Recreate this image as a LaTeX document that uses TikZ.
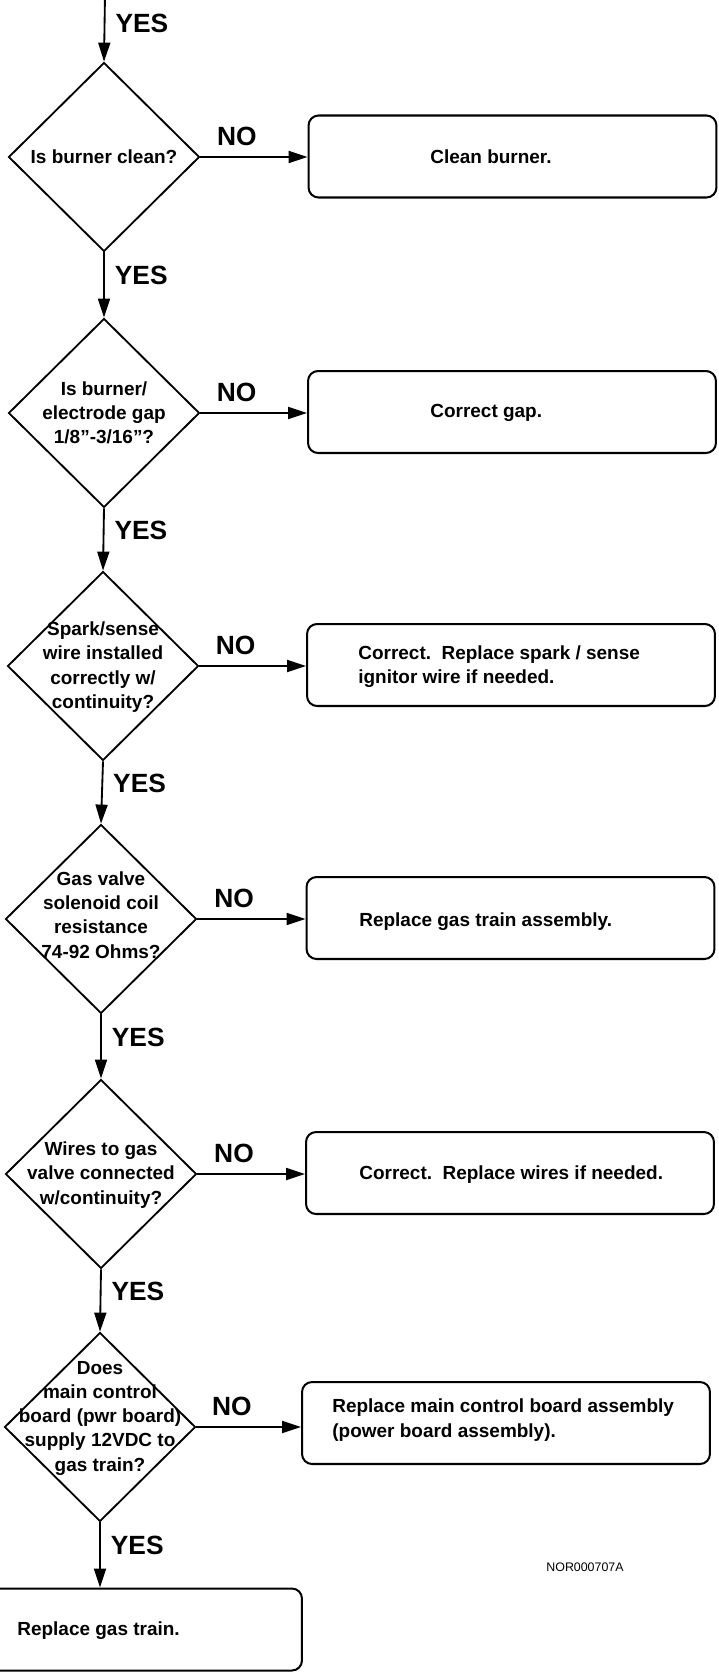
\documentclass[tikz,border=0pt]{standalone}
\usepackage{fontspec}
\setmainfont{Liberation Sans}
\usepackage{tikz}
\usetikzlibrary{arrows.meta}
\usetikzlibrary{shapes.geometric}
\usetikzlibrary{positioning}

\tikzset{
  decision/.style={diamond, draw, line width=1.05pt, minimum width=3.82cm, minimum height=3.78cm, inner sep=0pt},
  fixbox/.style={draw, line width=1.15pt, rounded corners=0.2cm, minimum width=8.16cm, minimum height=1.64cm, inner sep=0pt},
  qtext/.style={font=\fontsize{10.8}{13.8}\selectfont\bfseries, align=center, inner sep=0pt},
  atext/.style={font=\fontsize{10.8}{13.8}\selectfont\bfseries, align=left, anchor=west, inner sep=0pt},
  answer/.style={font=\fontsize{15}{18}\selectfont\bfseries, inner sep=0pt},
  flow/.style={line width=1.05pt, -{Triangle[length=0.38cm, width=0.24cm]}}
}

\begin{document}
\begin{tikzpicture}[x=0.02cm, y=-0.02cm]
  \useasboundingbox (0,0) rectangle (718,1673);
  \clip (0,0) rectangle (718,1673);

  \node[decision] (d1) at (104,157) {};
  \node[decision] (d2) at (104,413) {};
  \node[decision] (d3) at (103,666) {};
  \node[decision] (d4) at (101,919) {};
  \node[decision] (d5) at (101,1174) {};
  \node[decision] (d6) at (100,1427) {};

  \node[qtext] (q1) at (104,157) {Is burner clean?};
  \node[qtext] (q2) at (104,413) {Is burner/\\electrode gap\\1/8”-3/16”?};
  \node[qtext] (q3) at (103,667) {Spark/sense\\wire installed\\correctly w/\\continuity?};
  \node[qtext] (q4) at (101,915) {Gas valve\\solenoid coil\\resistance\\74-92 Ohms?};
  \node[qtext] (q5) at (101,1175) {Wires to gas\\valve connected\\w/continuity?};
  \node[qtext] (q6) at (100,1418) {Does\\main control\\board (pwr board)\\supply 12VDC to\\gas train?};

  \node[fixbox] (b1) at (512.5,156.5) {};
  \node[fixbox] (b2) at (512,412) {};
  \node[fixbox] (b3) at (511,665) {};
  \node[fixbox] (b4) at (510.5,918) {};
  \node[fixbox] (b5) at (510,1173) {};
  \node[fixbox] (b6) at (506,1423) {};
  \node[fixbox, minimum width=6.44cm] (b7) at (141,1629.5) {};

  \node[atext] (t1) at (430,157) {Clean burner.};
  \node[atext] (t2) at (430,413) {Correct gap.};
  \node[atext] (t3) at (358,667) {Correct.\ \ Replace spark / sense\\ignitor wire if needed.};
  \node[atext] (t4) at (359,922) {Replace gas train assembly.};
  \node[atext] (t5) at (359,1175) {Correct.\ \ Replace wires if needed.};
  \node[atext] (t6) at (332,1420) {Replace main control board assembly\\(power board assembly).};
  \node[atext] (t7) at (17,1631) {Replace gas train.};

  \coordinate (entry) at (105,-5);
  \draw[flow] (entry) -- node[answer, right=0.2cm, pos=0.42] (yes0) {YES} (d1.north);
  \foreach \a/\b in {d1/d2, d2/d3, d3/d4, d4/d5, d5/d6}
    \draw[flow] (\a.south) -- node[answer, right=0.2cm, pos=0.36] (yes\a) {YES} (\b.north);
  \draw[flow] (d6.south) -- node[answer, right=0.2cm, pos=0.35] (yesd6) {YES} (d6.south |- b7.north);
  \foreach \i in {1,...,6}
    \draw[flow] (d\i.east) -- node[answer, above=0.2cm, pos=0.34] (no\i) {NO} (d\i.east -| b\i.west);

  \node[font=\fontsize{7.05}{8.5}\selectfont] (code) at (585,1567) {NOR000707A};
\end{tikzpicture}
\end{document}
